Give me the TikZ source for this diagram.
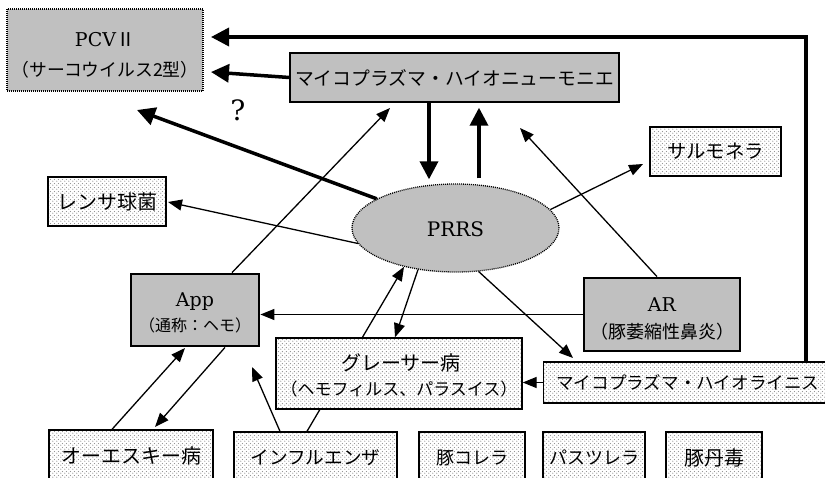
\documentclass[tikz,border=0pt]{standalone}
\usepackage{fontspec}
\newfontfamily\jp{Noto Sans CJK JP}
\newfontfamily\lat{DejaVu Serif}
\usetikzlibrary{arrows.meta,patterns,shapes.geometric}
\pgfdeclarepatternformonly{sdots}{\pgfqpoint{0pt}{0pt}}{\pgfqpoint{4pt}{4pt}}{\pgfqpoint{4pt}{4pt}}{%
  \pgfpathcircle{\pgfqpoint{1pt}{1pt}}{0.75pt}%
  \pgfpathcircle{\pgfqpoint{3pt}{3pt}}{0.75pt}%
  \pgfusepath{fill}}
\definecolor{boxgray}{RGB}{192,192,192}
\definecolor{dotgray}{RGB}{140,140,140}
\newcommand{\jpsz}[1]{\jp\fontsize{#1}{#1}\selectfont}
\newcommand{\latsz}[1]{\lat\fontsize{#1}{#1}\selectfont}
\begin{document}
\begin{tikzpicture}[x=1pt,y=-1pt,
  graybox/.style={draw, fill=boxgray, line width=1.4pt, inner sep=0pt},
  thickbox/.style={draw, fill=boxgray, line width=2.8pt, inner sep=0pt},
  dotbox/.style={draw, line width=1.3pt, preaction={fill=white}, pattern=sdots, pattern color=dotgray, inner sep=0pt},
  dotborder/.style={draw, fill=boxgray, line width=1.3pt, dash pattern=on 1pt off 1pt, inner sep=0pt},
  txt/.style={inner sep=0pt},
  smallarr/.style={line width=1.3pt, -{Triangle[length=14pt,width=11pt]}},
  bigarr/.style={line width=3.5pt, -{Triangle[length=18pt,width=18pt]}}]
\useasboundingbox (0,0) rectangle (825,478);
\clip (0,0) rectangle (825,478);
\fill[white] (0,0) rectangle (825,478);

% boxes
\node[dotborder, minimum width=196pt, minimum height=82pt] (pcv) at (105,50) {};
\node[txt] (pcvA) at (105,40) {\latsz{19}PCV{\jp Ⅱ}};
\node[txt] (pcvB) at (105,70) {\jpsz{17.8}（サーコウイルス2型）};
\node[graybox, minimum width=329pt, minimum height=49pt] (myco) at (454.5,77.5) {\jpsz{18.8}マイコプラズマ・ハイオニューモニエ};
\node[dotbox, minimum width=131pt, minimum height=49pt] (salmo) at (715.5,151.5) {\jpsz{19.4}サルモネラ};
\node[dotbox, minimum width=118pt, minimum height=49pt] (rensa) at (107,201.5) {\jpsz{20}レンサ球菌};
\node[dotborder, ellipse, minimum width=207pt, minimum height=88pt] (prrs) at (455.5,228) {};
\node[txt] (prrsT) at (455.5,229) {\latsz{20}PRRS};
\node[thickbox, minimum width=128pt, minimum height=72pt] (app) at (195,310) {};
\node[txt] (appA) at (195,302) {\latsz{19}App};
\node[txt] (appB) at (195,325) {\jpsz{16}（通称：ヘモ）};
\node[thickbox, minimum width=156pt, minimum height=73pt] (ar) at (662,314.5) {};
\node[txt] (arA) at (662,304.5) {\latsz{19}AR};
\node[txt] (arB) at (662,331.5) {\jpsz{18}（豚萎縮性鼻炎）};
\node[dotbox, anchor=west, minimum width=313pt, minimum height=41pt] (hyo) at (543,382.5) {};
\node[txt, anchor=west] (hyoT) at (556,382.5) {\jpsz{17.6}マイコプラズマ・ハイオライニス};
\node[dotbox, minimum width=164pt, minimum height=52pt] (auj) at (131,456) {\jpsz{20}オーエスキー病};
\node[dotbox, minimum width=163pt, minimum height=52pt] (infl) at (315.5,458) {\jpsz{18.6}インフルエンザ};
\node[dotbox, minimum width=106pt, minimum height=52pt] (chol) at (472,458) {\jpsz{18}豚コレラ};
\node[dotbox, minimum width=102pt, minimum height=52pt] (past) at (594,458) {\jpsz{18}パスツレラ};
\node[dotbox, minimum width=96pt, minimum height=52pt] (ery) at (714,458) {\jpsz{20}豚丹毒};

% arrow passing behind the Glasser box
\draw[smallarr] ([xshift=-8.5pt]infl.north) -- (prrs.217);

\node[dotbox, minimum width=246pt, minimum height=71pt] (glasser) at (399,373.5) {};
\node[txt] (glA) at (401,362.5) {\jpsz{20}グレーサー病};
\node[txt] (glB) at (399,389.5) {\jpsz{17}（ヘモフィルス、パラスイス）};

\node[txt] (q) at (238,110) {\latsz{28}?};

% free ends
\coordinate (c1) at (806,37);
\coordinate (t1) at (211,37);
\coordinate (t2) at (211,72);
\coordinate (t3) at (137,110);
\coordinate (t4) at (390,108);
\coordinate (t5) at (520,128);
\coordinate (t6) at (643,164);
\coordinate (t7) at (252,367);
\coordinate (t8) at (185,348);
\coordinate (t9) at (155,427);
\coordinate (t10) at (573,358);
\coordinate (t11) at (168,202);

% thick arrows
\draw[bigarr] (c1 |- hyo.north) -- (c1) -- (t1);
\draw[bigarr] (myco.west) -- (t2);
\draw[bigarr] (prrs) -- (t3);
\draw[bigarr] ([xshift=-25.5pt]myco.south) -- ([xshift=-26.5pt,yshift=4pt]prrs.north);
\draw[bigarr] ([xshift=23.5pt,yshift=5pt]prrs.north) -- ([xshift=24.5pt,yshift=-5pt]myco.south);

% thin arrows
\draw[smallarr] ([xshift=37pt]app.north) -- (t4);
\draw[smallarr] ([xshift=-5pt]ar.north) -- (t5);
\draw[smallarr] (prrs.11) -- (t6);
\draw[smallarr] (prrs.189) -- (t11);
\draw[smallarr] (ar.west) -- (ar.west -| app.east);
\draw[smallarr] ([xshift=-35.5pt]infl.north) -- (t7);
\draw[smallarr] (prrs.228) -- ([xshift=-4pt]glasser.north);
\draw[smallarr] (prrs.298) -- (t10);
\draw[smallarr] (hyo.west) -- (hyo.west -| glasser.east);
\draw[smallarr] ([xshift=-19pt]auj.north) -- (t8);
\draw[smallarr] ([xshift=30pt]app.south) -- (t9);
\end{tikzpicture}
\end{document}
